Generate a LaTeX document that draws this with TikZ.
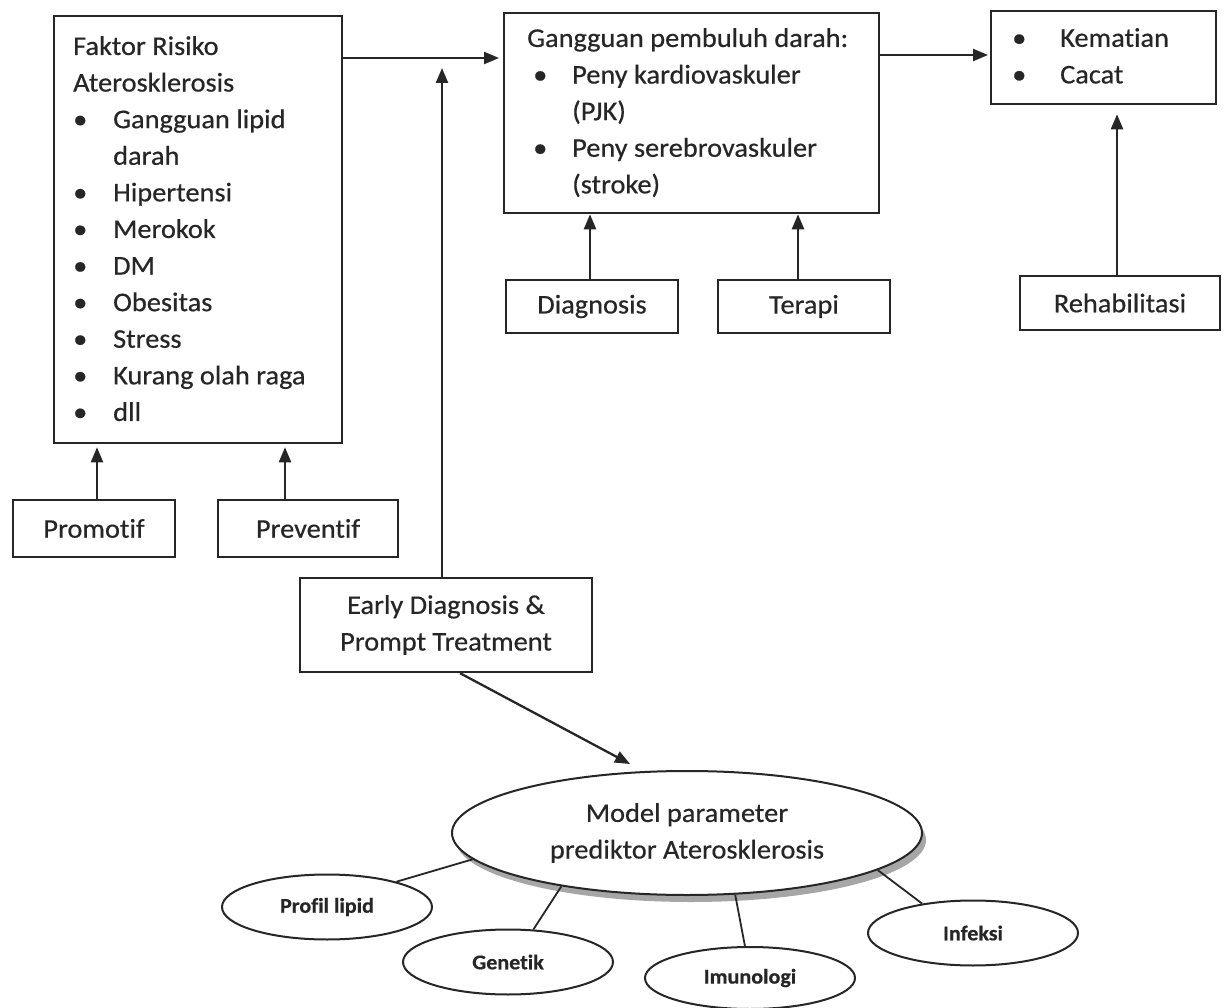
\documentclass[tikz,border=0pt]{standalone}
\usepackage{fontspec}
\setmainfont{Carlito}[Ligatures=NoCommon, FakeStretch=1.05, FakeBold=0.5]
\usetikzlibrary{shapes.geometric,arrows.meta,calc,shadows}
\definecolor{ink}{HTML}{262626}
\begin{document}
\begin{tikzpicture}[x=1pt,y=-1pt,
  every node/.style={text=ink, font=\fontsize{27}{36.6}\selectfont},
  box/.style={draw=ink, line width=2.3pt, rectangle, inner sep=0pt},
  txt/.style={anchor=north west, align=left, inner sep=0pt},
  arr/.style={draw=ink, line width=2.3pt, -{Triangle[length=15pt,width=12pt]}},
  link/.style={draw=ink, line width=1.8pt},
  oval/.style={draw=ink, line width=2pt, ellipse, inner sep=0pt, fill=white,
    minimum width=210pt, minimum height=65pt, font=\fontsize{21}{24}\selectfont\bfseries}]
\useasboundingbox[fill=white] (0,0) rectangle (1227,1008);

% main boxes
\node[box, minimum width=288pt, minimum height=427pt, anchor=north west] (faktor) at (53,15) {};
\node[txt] (faktortxt) at (73,36) {Faktor Risiko\\Aterosklerosis\\
\makebox[40pt][l]{•}Gangguan lipid\\\hspace*{40pt}darah\\
\makebox[40pt][l]{•}Hipertensi\\
\makebox[40pt][l]{•}Merokok\\
\makebox[40pt][l]{•}DM\\
\makebox[40pt][l]{•}Obesitas\\
\makebox[40pt][l]{•}Stress\\
\makebox[40pt][l]{•}Kurang olah raga\\
\makebox[40pt][l]{•}dll};

\node[box, minimum width=375pt, minimum height=200pt, anchor=north west] (gangguan) at (503,12) {};
\node[txt] (gangguantxt) at (527,28) {Gangguan pembuluh darah:\\
\hspace*{6pt}\makebox[39pt][l]{•}Peny kardiovaskuler\\
\hspace*{45pt}(PJK)\\
\hspace*{6pt}\makebox[39pt][l]{•}Peny serebrovaskuler\\
\hspace*{45pt}(stroke)};

\node[box, minimum width=225pt, minimum height=93pt, anchor=north west] (kematian) at (990,10) {};
\node[txt] (kematiantxt) at (1012,28) {\makebox[48pt][l]{•}Kematian\\\makebox[48pt][l]{•}Cacat};

% small boxes
\node[box, minimum width=172pt, minimum height=53pt] (diag) at (592,306.5) {Diagnosis};
\node[box, minimum width=172pt, minimum height=53pt] (terapi) at (804,306.5) {Terapi};
\node[box, minimum width=200pt, minimum height=54pt] (rehab) at (1120,303) {Rehabilitasi};
\node[box, minimum width=162pt, minimum height=57pt] (promotif) at (94,528.5) {Promotif};
\node[box, minimum width=180pt, minimum height=57pt] (preventif) at (308,528.5) {Preventif};
\node[box, minimum width=292pt, minimum height=94pt, align=center] (early) at (446,625) {Early Diagnosis \&\\Prompt Treatment};

% model ellipse
\node[draw=ink, line width=2pt, ellipse, fill=white, inner sep=0pt,
  minimum width=470pt, minimum height=124pt, align=center,
  drop shadow={shadow xshift=4pt, shadow yshift=-7pt, fill=gray!70, opacity=1}]
  (model) at (687,833) {Model parameter\\prediktor Aterosklerosis};

\node[oval] (profil) at (327,907) {Profil lipid};
\node[oval] (genetik) at (508,962) {Genetik};
\node[oval, minimum height=62pt] (imuno) at (750,978) {Imunologi};
\node[oval] (infeksi) at (973,933) {Infeksi};

% connectors
\coordinate (fa) at ($(faktor.north east)+(0,43)$);
\draw[arr, shorten >=4pt] (fa) -- (fa -| gangguan.west);
\coordinate (ga) at ($(gangguan.north east)+(0,43)$);
\draw[arr, shorten >=2pt] (ga) -- (ga -| kematian.west);
\coordinate (ej) at (442,68);
\draw[arr] (early.north -| ej) -- (ej);
\draw[arr] (diag.north -| 590,0) -- (gangguan.south -| 590,0);
\draw[arr] (terapi.north -| 798,0) -- (gangguan.south -| 798,0);
\draw[arr, shorten >=9pt] (rehab.north -| 1117,0) -- (kematian.south -| 1117,0);
\draw[arr, shorten >=3pt] (promotif.north -| 97,0) -- (faktor.south -| 97,0);
\draw[arr, shorten >=3pt] (preventif.north -| 285,0) -- (faktor.south -| 285,0);
\coordinate (et) at (630,764);
\draw[arr] (early.south -| 460,0) -- (et);

\draw[link] (profil.20) -- (model.187);
\draw[link] (genetik.52) -- (model.203);
\draw[link] (imuno.99) -- (model.308);
\draw[link] (infeksi.150) -- (model.349);
\end{tikzpicture}
\end{document}
